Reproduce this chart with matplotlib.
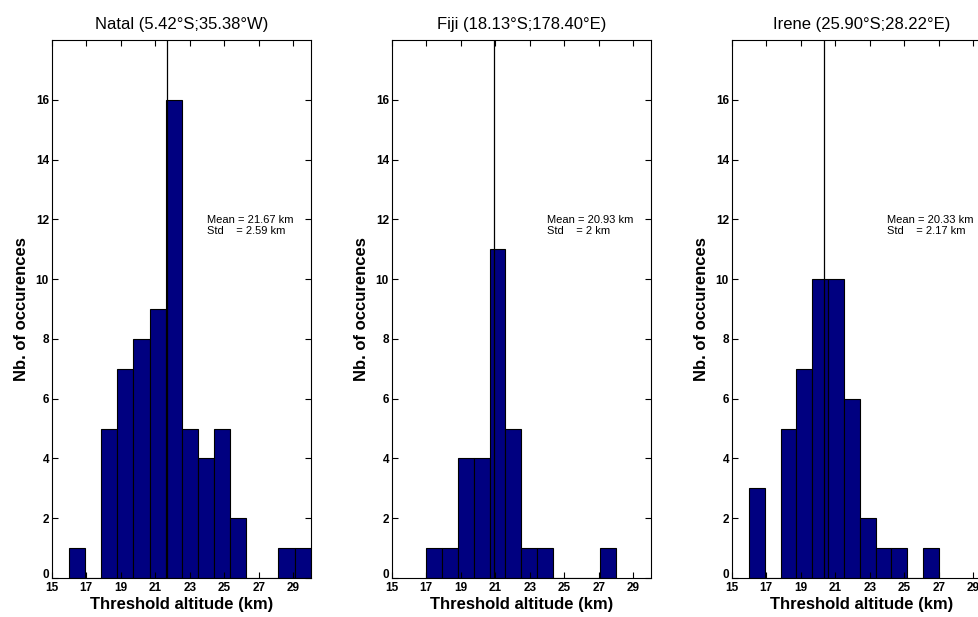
import matplotlib

matplotlib.use("Agg")
import matplotlib.pyplot as plt
import matplotlib.transforms as mtransforms
import numpy as np

plt.rcParams["font.family"] = ["Liberation Sans", "DejaVu Sans"]

NAVY = "#000080"

# station names / titles
titles = ["Natal (5.42°S;35.38°W)", "Fiji (18.13°S;178.40°E)", "Irene (25.90°S;28.22°E)"]

# histogram bins (left edge of first / right edge of last bin) and counts
natal_range = (16.0, 30.0)
natal_counts = [1, 0, 5, 7, 8, 9, 16, 5, 4, 5, 2, 0, 0, 1, 1]
fiji_range = (17.0, 28.0)
fiji_counts = [1, 1, 4, 4, 11, 5, 1, 1, 0, 0, 0, 1]
irene_range = (16.0, 27.0)
irene_counts = [3, 0, 5, 7, 10, 10, 6, 2, 1, 1, 0, 1]

means = [21.67, 20.93, 20.33]
stds = ["2.59", "2", "2.17"]

panels = [
    (natal_range, natal_counts),
    (fiji_range, fiji_counts),
    (irene_range, irene_counts),
]

fig = plt.figure(figsize=(9.79, 6.17), dpi=100)
lefts = [0.0528, 0.4001, 0.7474]

for i, ((lo, hi), counts) in enumerate(panels):
    ax = fig.add_axes([lefts[i], 0.0632, 0.2646, 0.872])
    edges = np.linspace(lo, hi, len(counts) + 1)
    ax.bar(edges[:-1], counts, width=np.diff(edges), align="edge",
           color=NAVY, edgecolor="black", linewidth=0.8)
    ax.axvline(means[i], color="black", linewidth=0.9)
    ax.text(24, 12.15, f"Mean = {means[i]} km\nStd    = {stds[i]} km",
            fontsize=8, va="top", ha="left", linespacing=1.2,
            clip_on=False)
    ax.set_xlim(15, 30)
    ax.set_ylim(0, 18)
    ax.set_xticks(np.arange(15, 30, 2))
    ax.set_yticks(np.arange(0, 17, 2))
    ax.tick_params(direction="in", top=True, right=True, length=4, width=0.8,
                   labelsize=8.5)
    ax.tick_params(axis="x", pad=3)
    ax.tick_params(axis="y", pad=2)
    for lab in ax.get_xticklabels() + ax.get_yticklabels():
        lab.set_fontweight("bold")
    # nudge the "0" label up a little so it sits just above "15"
    zero = ax.get_yticklabels()[0]
    zero.set_transform(zero.get_transform()
                       + mtransforms.ScaledTranslation(0, 3 / 72, fig.dpi_scale_trans))
    ax.set_xlabel("Threshold altitude (km)", fontsize=12, fontweight="bold", labelpad=2)
    ax.set_ylabel("Nb. of occurences", fontsize=12, fontweight="bold", labelpad=5)
    ax.set_title(titles[i], fontsize=12, pad=8)
    for s in ax.spines.values():
        s.set_linewidth(0.8)

fig.savefig("out.png", dpi=100)
